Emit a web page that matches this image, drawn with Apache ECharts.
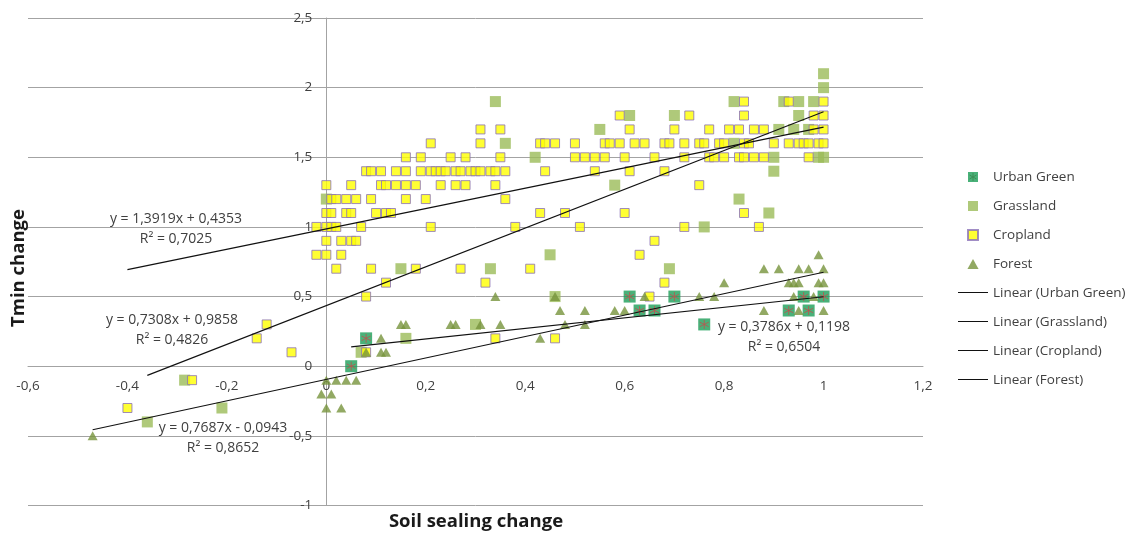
<!DOCTYPE html>
<html>
<head>
<meta charset="utf-8">
<script src="https://cdn.jsdelivr.net/npm/echarts@6/dist/echarts.min.js"></script>
<style>
  html, body { margin: 0; padding: 0; background: #ffffff; }
  #chart { width: 1131px; height: 534px; }
</style>
</head>
<body>
<div id="chart"></div>
<script>
// Soil sealing change (x) against Tmin change (y), per land-cover class.
const seriesNames = ['Urban Green', 'Grassland', 'Cropland', 'Forest'];

const urbanGreen = [
  [0.05, 0.0], [0.08, 0.2], [0.61, 0.5], [0.63, 0.4], [0.66, 0.4], [0.70, 0.5],
  [0.76, 0.3], [0.93, 0.4], [0.96, 0.5], [0.97, 0.4], [1.00, 0.5]
];

const grassland = [
  [1.00, 2.1], [1.00, 2.0],
  [0.34, 1.9], [0.82, 1.9], [0.92, 1.9], [0.95, 1.9], [0.98, 1.9],
  [0.61, 1.8], [0.70, 1.8], [0.95, 1.8],
  [0.55, 1.7], [0.91, 1.7], [0.94, 1.7], [0.97, 1.7],
  [0.36, 1.6], [0.82, 1.6],
  [0.42, 1.5], [0.90, 1.5], [0.99, 1.5], [1.00, 1.5],
  [0.90, 1.4], [0.58, 1.3], [0.00, 1.2], [0.83, 1.2], [0.89, 1.1], [0.76, 1.0],
  [0.45, 0.8], [0.15, 0.7], [0.33, 0.7], [0.69, 0.7], [0.46, 0.5],
  [0.30, 0.3], [0.16, 0.2], [0.07, 0.1],
  [-0.285, -0.1], [-0.21, -0.3], [-0.36, -0.4]
];

const cropland = [
  [0.84, 1.9], [0.93, 1.9], [1.00, 1.9],
  [0.59, 1.8], [0.73, 1.8], [0.84, 1.8], [0.98, 1.8], [1.00, 1.8],
  [0.31, 1.7], [0.35, 1.7], [0.61, 1.7], [0.70, 1.7], [0.77, 1.7], [0.81, 1.7],
  [0.83, 1.7], [0.86, 1.7], [0.88, 1.7], [0.98, 1.7], [1.00, 1.7],
  [0.21, 1.6], [0.31, 1.6], [0.43, 1.6], [0.44, 1.6], [0.46, 1.6], [0.50, 1.6],
  [0.56, 1.6], [0.57, 1.6], [0.59, 1.6], [0.62, 1.6], [0.64, 1.6], [0.68, 1.6],
  [0.69, 1.6], [0.72, 1.6], [0.75, 1.6], [0.76, 1.6], [0.79, 1.6], [0.80, 1.6],
  [0.84, 1.6], [0.85, 1.6], [0.90, 1.6], [0.93, 1.6], [0.95, 1.6], [0.96, 1.6],
  [0.97, 1.6], [0.99, 1.6], [1.00, 1.6],
  [0.16, 1.5], [0.19, 1.5], [0.25, 1.5], [0.28, 1.5], [0.35, 1.5], [0.50, 1.5],
  [0.52, 1.5], [0.54, 1.5], [0.56, 1.5], [0.60, 1.5], [0.66, 1.5], [0.72, 1.5],
  [0.77, 1.5], [0.78, 1.5], [0.80, 1.5], [0.83, 1.5], [0.84, 1.5], [0.86, 1.5],
  [0.88, 1.5], [0.97, 1.5],
  [0.08, 1.4], [0.09, 1.4], [0.11, 1.4], [0.14, 1.4], [0.16, 1.4], [0.19, 1.4],
  [0.21, 1.4], [0.22, 1.4], [0.23, 1.4], [0.24, 1.4], [0.26, 1.4], [0.27, 1.4],
  [0.29, 1.4], [0.30, 1.4], [0.31, 1.4], [0.33, 1.4], [0.34, 1.4], [0.36, 1.4],
  [0.44, 1.4], [0.54, 1.4], [0.61, 1.4], [0.68, 1.4],
  [0.00, 1.3], [0.05, 1.3], [0.11, 1.3], [0.12, 1.3], [0.14, 1.3], [0.16, 1.3],
  [0.18, 1.3], [0.23, 1.3], [0.26, 1.3], [0.28, 1.3], [0.34, 1.3], [0.75, 1.3],
  [0.01, 1.2], [0.02, 1.2], [0.04, 1.2], [0.06, 1.2], [0.09, 1.2], [0.16, 1.2],
  [0.20, 1.2], [0.36, 1.2],
  [0.00, 1.1], [0.01, 1.1], [0.04, 1.1], [0.05, 1.1], [0.10, 1.1], [0.12, 1.1],
  [0.13, 1.1], [0.43, 1.1], [0.48, 1.1], [0.60, 1.1], [0.84, 1.1],
  [-0.02, 1.0], [0.00, 1.0], [0.01, 1.0], [0.02, 1.0], [0.07, 1.0], [0.21, 1.0],
  [0.38, 1.0], [0.51, 1.0], [0.72, 1.0], [0.87, 1.0],
  [0.00, 0.9], [0.03, 0.9], [0.05, 0.9], [0.06, 0.9], [0.66, 0.9],
  [-0.02, 0.8], [0.00, 0.8], [0.03, 0.8], [0.63, 0.8],
  [0.02, 0.7], [0.09, 0.7], [0.18, 0.7], [0.27, 0.7], [0.41, 0.7],
  [0.12, 0.6], [0.32, 0.6], [0.68, 0.6],
  [0.08, 0.5], [0.65, 0.5],
  [-0.12, 0.3],
  [-0.14, 0.2], [0.34, 0.2], [0.46, 0.2],
  [-0.07, 0.1], [0.08, 0.1],
  [-0.27, -0.1],
  [-0.40, -0.3]
];

const forest = [
  [-0.47, -0.5],
  [0.00, -0.1], [0.02, -0.1], [0.04, -0.1], [0.06, -0.1],
  [-0.01, -0.2], [0.01, -0.2], [0.00, -0.3], [0.03, -0.3],
  [0.08, 0.1], [0.11, 0.1], [0.12, 0.1], [0.11, 0.2],
  [0.15, 0.3], [0.16, 0.3], [0.25, 0.3], [0.26, 0.3], [0.31, 0.3], [0.35, 0.3],
  [0.43, 0.2], [0.48, 0.3], [0.52, 0.3],
  [0.34, 0.5], [0.46, 0.5], [0.47, 0.4], [0.52, 0.4], [0.58, 0.4], [0.60, 0.4],
  [0.64, 0.5], [0.75, 0.5], [0.78, 0.5], [0.80, 0.6],
  [0.88, 0.7], [0.91, 0.7], [0.95, 0.7], [0.97, 0.7], [0.99, 0.8], [1.00, 0.7],
  [0.93, 0.6], [0.94, 0.6], [0.95, 0.6], [0.99, 0.6], [1.00, 0.6],
  [0.94, 0.5], [0.98, 0.5], [0.88, 0.4], [0.95, 0.4], [1.00, 0.4]
];

// Linear trend lines, in the order of seriesNames
const trendSlope = [0.3786, 1.3919, 0.7308, 0.7687];
const trendIntercept = [0.1198, 0.4353, 0.9858, -0.0943];
const trendR2 = [0.6504, 0.7025, 0.4826, 0.8652];

// Axis ranges: [min, max, step]
const xRange = [-0.6, 1.2, 0.2];
const yRange = [-1, 2.5, 0.5];

// ---- presentation ----
const FONT = '"Open Sans", "Liberation Sans", sans-serif';
const TEXT = '#404040';
const GRID = '#a3a3a3';
const colors = {
  urban: '#1b9e58', star: '#c0504d', grass: '#9bbb59',
  crop: '#ffff00', cropBorder: '#8a70b8', forest: '#77933c', trend: '#111111'
};
const W = 1131, H = 534;
const gridBox = { left: 28, right: 208, top: 18, bottom: 28.5 };
const plotW = W - gridBox.left - gridBox.right;
const plotH = H - gridBox.top - gridBox.bottom;
// the axes cross at zero: shift each axis (line + labels) onto the other's zero
const xAxisShift = -plotH * (0 - yRange[0]) / (yRange[1] - yRange[0]);
const yAxisShift = -plotW * (0 - xRange[0]) / (xRange[1] - xRange[0]);

// centre of the two label lines for each trend equation (px)
const eqLayout = [
  { x: 784, y: 327 },
  { x: 176, y: 219 },
  { x: 172, y: 320 },
  { x: 223, y: 428 }
];

const fmtNum = (v, d) => v.toFixed(d).replace('.', ',');
const fmtTick = v => String(Math.round(v * 10) / 10).replace('.', ',');
const allSets = [urbanGreen, grassland, cropland, forest];

function trendData(i) {
  const xs = allSets[i].map(p => p[0]);
  const lo = Math.min(...xs), hi = Math.max(...xs);
  return [lo, hi].map(x => [x, trendSlope[i] * x + trendIntercept[i]]);
}
function eqText(i) {
  const b = trendIntercept[i];
  return 'y = ' + fmtNum(trendSlope[i], 4) + 'x ' + (b < 0 ? '- ' : '+ ') + fmtNum(Math.abs(b), 4);
}

const squareIcon = 'path://M0,0H10V10H0Z';
const triangleIcon = 'path://M5,0L10,9L0,9Z';
// 1px rule in the middle of a 30x10 box (the two moves pin the box size)
const lineIcon = 'path://M0,0M30,10M0,4H30V5H0Z';
const starPath = 'path://M5,0V10M0.7,2.5L9.3,7.5M0.7,7.5L9.3,2.5';

const scatterSeries = [
  { name: seriesNames[0], type: 'scatter', data: urbanGreen, symbol: 'rect', symbolSize: 12,
    itemStyle: { color: colors.urban } },
  { name: 'ug-star', type: 'scatter', data: urbanGreen, symbol: starPath, symbolSize: 9,
    itemStyle: { color: 'rgba(0,0,0,0)', borderColor: colors.star, borderWidth: 1 }, silent: true },
  { name: seriesNames[1], type: 'scatter', data: grassland, symbol: 'rect', symbolSize: 11,
    itemStyle: { color: colors.grass } },
  { name: seriesNames[2], type: 'scatter', data: cropland, symbol: 'rect', symbolSize: 9,
    itemStyle: { color: colors.crop, borderColor: colors.cropBorder, borderWidth: 1 } },
  { name: seriesNames[3], type: 'scatter', data: forest, symbol: 'triangle', symbolSize: [10, 9],
    itemStyle: { color: colors.forest } }
];

const trendSeries = seriesNames.map((n, i) => ({
  name: 'Linear (' + n + ')', type: 'line', data: trendData(i), symbol: 'none', showSymbol: false,
  lineStyle: { color: colors.trend, width: 1.1 }, itemStyle: { color: colors.trend },
  silent: true, z: 3
}));

const eqGraphics = [];
seriesNames.forEach((n, i) => {
  const p = eqLayout[i];
  eqGraphics.push({ type: 'text', x: p.x, y: p.y,
    style: { text: eqText(i), font: '14px ' + FONT, fill: TEXT, align: 'center', verticalAlign: 'middle' } });
  eqGraphics.push({ type: 'text', x: p.x, y: p.y + 20,
    style: { text: 'R² = ' + fmtNum(trendR2[i], 4), font: '14px ' + FONT, fill: TEXT, align: 'center', verticalAlign: 'middle' } });
});

const lineLegendItem = n => ({
  name: 'Linear (' + n + ')', icon: lineIcon,
  itemStyle: { color: colors.trend, borderWidth: 0 }
});

const chart = echarts.init(document.getElementById('chart'), null, { renderer: 'canvas' });
chart.setOption({
  animation: false,
  backgroundColor: '#ffffff',
  grid: Object.assign({ containLabel: false, outerBoundsMode: 'none' }, gridBox),
  xAxis: {
    type: 'value', min: xRange[0], max: xRange[1], interval: xRange[2],
    offset: xAxisShift,
    axisLine: { show: true, onZero: false, lineStyle: { color: GRID, width: 1 } },
    axisTick: { show: false },
    splitLine: { show: false },
    axisLabel: { formatter: fmtTick, color: TEXT, fontFamily: FONT, fontSize: 13.5, margin: 13 }
  },
  yAxis: {
    type: 'value', min: yRange[0], max: yRange[1], interval: yRange[2],
    offset: yAxisShift,
    axisLine: { show: true, onZero: false, lineStyle: { color: GRID, width: 1 } },
    axisTick: { show: false },
    splitLine: { show: true, lineStyle: { color: GRID, width: 1 } },
    axisLabel: { formatter: fmtTick, color: TEXT, fontFamily: FONT, fontSize: 13.5, margin: 14 }
  },
  legend: {
    orient: 'vertical', left: 958, top: 169, padding: 0,
    itemWidth: 30, itemHeight: 10, itemGap: 13,
    symbolKeepAspect: true,
    textStyle: { color: TEXT, fontFamily: FONT, fontSize: 13.5, lineHeight: 16 },
    data: [
      { name: seriesNames[0], icon: squareIcon },
      { name: seriesNames[1], icon: squareIcon },
      { name: seriesNames[2], icon: squareIcon },
      { name: seriesNames[3], icon: triangleIcon }
    ].concat(seriesNames.map(lineLegendItem)),
    selectedMode: false
  },
  graphic: [
    { type: 'text', x: 19, y: 268, rotation: Math.PI / 2,
      style: { text: 'Tmin change', font: 'bold 18.5px ' + FONT, fill: '#1a1a1a', align: 'center', verticalAlign: 'middle' } },
    { type: 'text', x: 476, y: 522,
      style: { text: 'Soil sealing change', font: 'bold 18.5px ' + FONT, fill: '#1a1a1a', align: 'center', verticalAlign: 'middle' } },
    // asterisk on the Urban Green legend swatch
    { type: 'group', x: 969, y: 173, children: [
      { type: 'line', shape: { x1: 4, y1: 0, x2: 4, y2: 8 }, style: { stroke: colors.star, lineWidth: 1 } },
      { type: 'line', shape: { x1: 0.5, y1: 2, x2: 7.5, y2: 6 }, style: { stroke: colors.star, lineWidth: 1 } },
      { type: 'line', shape: { x1: 0.5, y1: 6, x2: 7.5, y2: 2 }, style: { stroke: colors.star, lineWidth: 1 } }
    ] }
  ].concat(eqGraphics),
  series: scatterSeries.concat(trendSeries)
});
</script>
</body>
</html>
